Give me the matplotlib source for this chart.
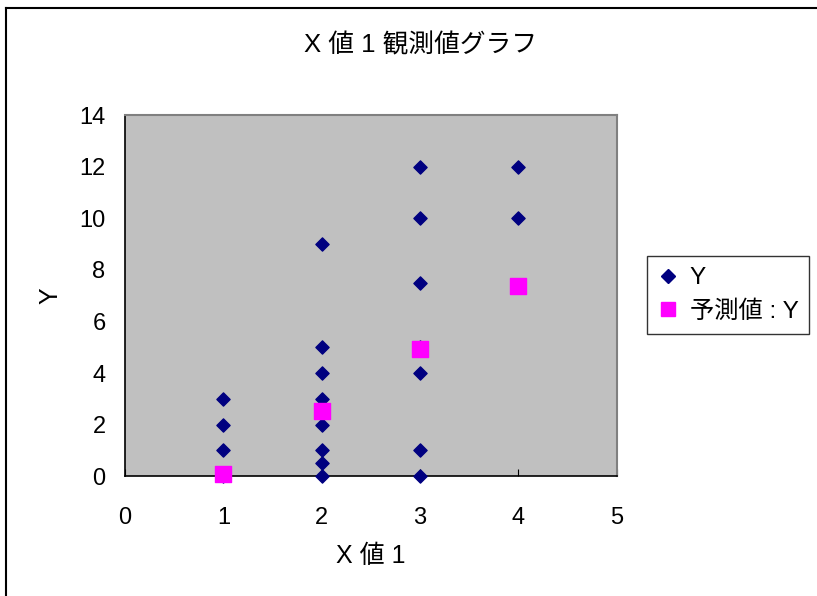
import matplotlib
matplotlib.use("Agg")
import matplotlib.pyplot as plt
from matplotlib.lines import Line2D

plt.rcParams['font.family'] = ['Liberation Sans', 'Noto Sans CJK JP']

# observed values
obs_x = [1, 1, 1, 1,
         2, 2, 2, 2, 2, 2, 2, 2,
         3, 3, 3, 3, 3, 3, 3,
         4, 4]
obs_y = [0, 1, 2, 3,
         0, 0.5, 1, 2, 3, 4, 5, 9,
         0, 1, 4, 5, 7.5, 10, 12,
         10, 12]

# predicted values
pred_x = [1, 2, 3, 4]
pred_y = [0.08, 2.51, 4.94, 7.37]

title = "X 値 1 観測値グラフ"
xlabel = "X 値 1"
ylabel = "Y"
legend_labels = ["Y", "予測値 : Y"]

fig = plt.figure(figsize=(8.17, 5.96), dpi=100)

# chart-area border (only top and left visible)
fig.add_artist(Line2D([0.0073, 1], [0.9866, 0.9866], color="black", lw=1.5,
                      transform=fig.transFigure))
fig.add_artist(Line2D([0.0073, 0.0073], [0, 0.9866], color="black", lw=1.5,
                      transform=fig.transFigure))

ax = fig.add_axes([0.153, 0.201, 0.602, 0.606])
ax.set_facecolor("#C0C0C0")

ax.scatter(obs_x, obs_y, marker="D", s=45, color="#000080", zorder=3, clip_on=False)
ax.scatter(pred_x, pred_y, marker="s", s=120, color="#FF00FF", zorder=4, clip_on=False)

ax.set_xlim(0, 5)
ax.set_ylim(0, 14)
ax.set_xticks(range(0, 6))
ax.set_yticks(range(0, 15, 2))
ax.tick_params(axis="x", direction="in", length=5, labelsize=17, pad=22)
ax.tick_params(axis="y", length=0, labelsize=17, pad=14)

for side in ["top", "right"]:
    ax.spines[side].set_color("#808080")
    ax.spines[side].set_linewidth(1.5)
for side in ["left", "bottom"]:
    ax.spines[side].set_color("black")
    ax.spines[side].set_linewidth(1.2)

ax.set_xlabel(xlabel, fontsize=18, labelpad=11)
ax.set_ylabel(ylabel, fontsize=18, labelpad=12)
fig.text(0.515, 0.924, title, ha="center", va="center", fontsize=18.5)

handles = [
    Line2D([], [], marker="D", color="#000080", linestyle="none", markersize=7),
    Line2D([], [], marker="s", color="#FF00FF", linestyle="none", markersize=10),
]
leg = fig.legend(handles, legend_labels, loc="center left",
                 bbox_to_anchor=(0.792, 0.505), fontsize=17.5,
                 frameon=True, fancybox=False, edgecolor="black",
                 handletextpad=0.5, borderpad=0.45, labelspacing=0.45,
                 handlelength=0.8, borderaxespad=0)
leg.get_frame().set_linewidth(1.0)

fig.savefig("out.png", dpi=100)
